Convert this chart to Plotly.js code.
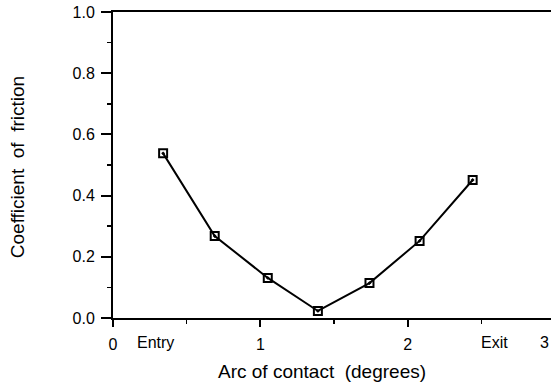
<!DOCTYPE html>
<html>
<head>
<meta charset="utf-8">
<script src="https://cdn.plot.ly/plotly-3.0.1.min.js"></script>
<style>
html,body{margin:0;padding:0;background:#fff;}
#chart{width:551px;height:386px;}
</style>
</head>
<body>
<div id="chart"></div>
<script>
// Data
const arcDeg = [0.34, 0.69, 1.05, 1.39, 1.74, 2.08, 2.44];
const friction = [0.538, 0.268, 0.131, 0.023, 0.114, 0.252, 0.451];
const xTickVals = [0, 1, 2];
const xTickText = ['0', '1', '2'];
const xExtraLabels = ['Entry', 'Exit'];
const xExtraPos = [0.29, 2.59];
const yTickVals = [0, 0.2, 0.4, 0.6, 0.8, 1.0];
const xTitle = 'Arc of contact&nbsp;&nbsp;(degrees)';
const yTitle = 'Coefficient&nbsp;&nbsp;of&nbsp;&nbsp;friction';

const FONT = 'Liberation Sans, Arial, Helvetica, sans-serif';
const xMax = 2.9715;
const TICKSIZE = 16;
const TITLESIZE = 19;

const trace = {
  x: arcDeg,
  y: friction,
  type: 'scatter',
  mode: 'lines+markers',
  line: {color: '#000', width: 2},
  marker: {symbol: 'square-open-dot', size: 8, color: '#000', line: {color: '#000', width: 2}},
  cliponaxis: false,
  hoverinfo: 'skip'
};

const annotations = xExtraLabels.map((t, i) => ({
  text: t, xref: 'x', yref: 'paper', x: xExtraPos[i], y: 0,
  yanchor: 'top', xanchor: 'center', yshift: -14, showarrow: false,
  font: {family: FONT, size: TICKSIZE, color: '#000'}
}));
annotations.push({
  text: '3', xref: 'paper', yref: 'paper', x: 1, y: 0,
  yanchor: 'top', xanchor: 'right', yshift: -14, showarrow: false,
  font: {family: FONT, size: TICKSIZE, color: '#000'}
});
annotations.push({
  text: xTitle, xref: 'paper', yref: 'paper', x: 0.477, y: -0.176,
  xanchor: 'center', yanchor: 'middle', showarrow: false,
  font: {family: FONT, size: TITLESIZE, color: '#000'}
});
annotations.push({
  text: yTitle, xref: 'paper', yref: 'paper', x: -0.219, y: 0.493,
  xanchor: 'center', yanchor: 'middle', textangle: -90, showarrow: false,
  font: {family: FONT, size: TITLESIZE, color: '#000'}
});

const layout = {
  width: 551, height: 386,
  margin: {l: 113, r: 0, t: 12, b: 68, pad: 0},
  paper_bgcolor: '#fff', plot_bgcolor: '#fff',
  showlegend: false,
  font: {family: FONT, color: '#000'},
  xaxis: {
    range: [0, xMax],
    tickvals: xTickVals, ticktext: xTickText,
    ticks: 'outside', ticklen: 7, tickwidth: 2, tickcolor: '#000',
    ticklabelstandoff: 4,
    minor: {tickvals: [0.5, 1.5, 2.5], ticks: 'outside', ticklen: 4, tickwidth: 1.5, tickcolor: '#000'},
    showline: true, linewidth: 2, linecolor: '#000', mirror: true,
    showgrid: false, zeroline: false,
    tickfont: {family: FONT, size: TICKSIZE, color: '#000'},
    fixedrange: true
  },
  yaxis: {
    range: [0, 1],
    tickvals: yTickVals,
    tickformat: '.1f',
    ticks: 'outside', ticklen: 10, tickwidth: 2, tickcolor: '#000',
    ticklabelstandoff: 3,
    minor: {tickvals: [0.1, 0.3, 0.5, 0.7, 0.9], ticks: 'outside', ticklen: 4, tickwidth: 1.5, tickcolor: '#000'},
    showline: true, linewidth: 2, linecolor: '#000',
    showgrid: false, zeroline: false,
    tickfont: {family: FONT, size: TICKSIZE, color: '#000'},
    fixedrange: true
  },
  annotations: annotations
};

Plotly.newPlot('chart', [trace], layout, {displayModeBar: false, staticPlot: true});
</script>
</body>
</html>
